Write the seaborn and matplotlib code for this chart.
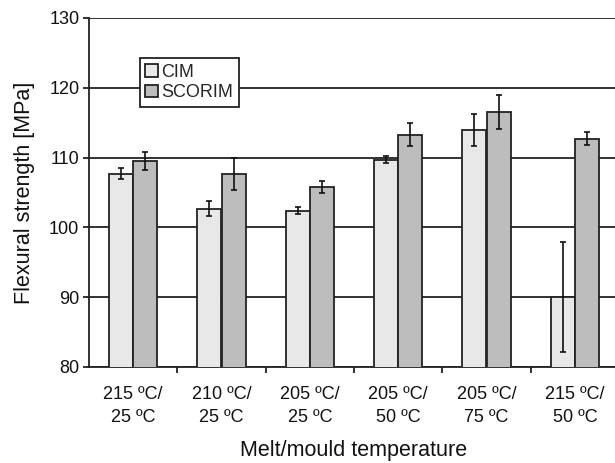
import numpy as np
import pandas as pd
import matplotlib
matplotlib.use("Agg")
import matplotlib.pyplot as plt
import seaborn as sns
from matplotlib.ticker import FixedLocator

categories = ["215 ºC/\n25 ºC", "210 ºC/\n25 ºC", "205 ºC/\n25 ºC",
              "205 ºC/\n50 ºC", "205 ºC/\n75 ºC", "215 ºC/\n50 ºC"]
cim = [107.7, 102.7, 102.4, 109.7, 113.9, 90.0]
cim_err = [0.75, 1.1, 0.5, 0.5, 2.3, 7.9]
scorim = [109.5, 107.6, 105.8, 113.3, 116.5, 112.7]
scorim_err = [1.3, 2.3, 0.9, 1.7, 2.4, 0.9]
series = ["CIM", "SCORIM"]

df = pd.DataFrame({
    "cat": categories * 2,
    "series": ["CIM"] * 6 + ["SCORIM"] * 6,
    "value": cim + scorim,
})

sns.set_theme(style="white")
plt.rcParams['font.family'] = ['Liberation Sans', 'DejaVu Sans']

fig = plt.figure(figsize=(6.15, 4.63), dpi=100)
ax = fig.add_axes([89 / 615, 96 / 463, 530 / 615, 349 / 463])

sns.barplot(data=df, x="cat", y="value", hue="series", order=categories,
            hue_order=series, palette=["#e8e8e8", "#bdbdbd"], width=0.55,
            edgecolor="#222222", linewidth=1.3, errorbar=None, ax=ax,
            zorder=3, saturation=1)

errs = [cim_err, scorim_err]
vals = [cim, scorim]
for cont, e, v in zip(ax.containers, errs, vals):
    xs = [p.get_x() + p.get_width() / 2 for p in cont.patches]
    ax.errorbar(xs, v, yerr=e, fmt="none", ecolor="#111111", elinewidth=1.2,
                capsize=2.3, capthick=1.2, zorder=4)

ax.set_ylim(80, 130)
ax.set_xlim(-0.5, 5.5)
ax.set_yticks([80, 90, 100, 110, 120, 130])
ax.yaxis.grid(True, color="#222222", linewidth=1.3, zorder=0)
ax.set_axisbelow(True)
for s in ["top", "right"]:
    ax.spines[s].set_visible(False)
for s in ["left", "bottom"]:
    ax.spines[s].set_color("#222222")
    ax.spines[s].set_linewidth(1.3)

ax.tick_params(axis="y", which="major", left=True, length=4, width=1.3,
               color="#222222", labelsize=13, pad=3, labelcolor="#111111")
ax.tick_params(axis="x", which="major", bottom=False, length=0, labelsize=13,
               pad=14, labelcolor="#111111")
ax.xaxis.set_minor_locator(FixedLocator(np.arange(0.5, 6, 1.0)))
ax.tick_params(axis="x", which="minor", bottom=True, length=4, width=1.3,
               color="#222222")
for lbl in ax.get_xticklabels():
    lbl.set_linespacing(1.4)

ax.set_xlabel("Melt/mould temperature", fontsize=15.5, color="#111111",
              labelpad=10)
ax.set_ylabel("Flexural strength [MPa]", fontsize=15.5, color="#111111",
              labelpad=10)

leg = ax.legend(loc="upper left", bbox_to_anchor=(0.096, 0.885), fontsize=13,
                frameon=True, fancybox=False, edgecolor="#222222",
                framealpha=1, handlelength=0.7, handleheight=0.7,
                handletextpad=0.2, borderpad=0.3, labelspacing=0.2,
                borderaxespad=0)
leg.get_frame().set_linewidth(1.3)
leg.set_zorder(5)

fig.savefig("out.png", dpi=100)
